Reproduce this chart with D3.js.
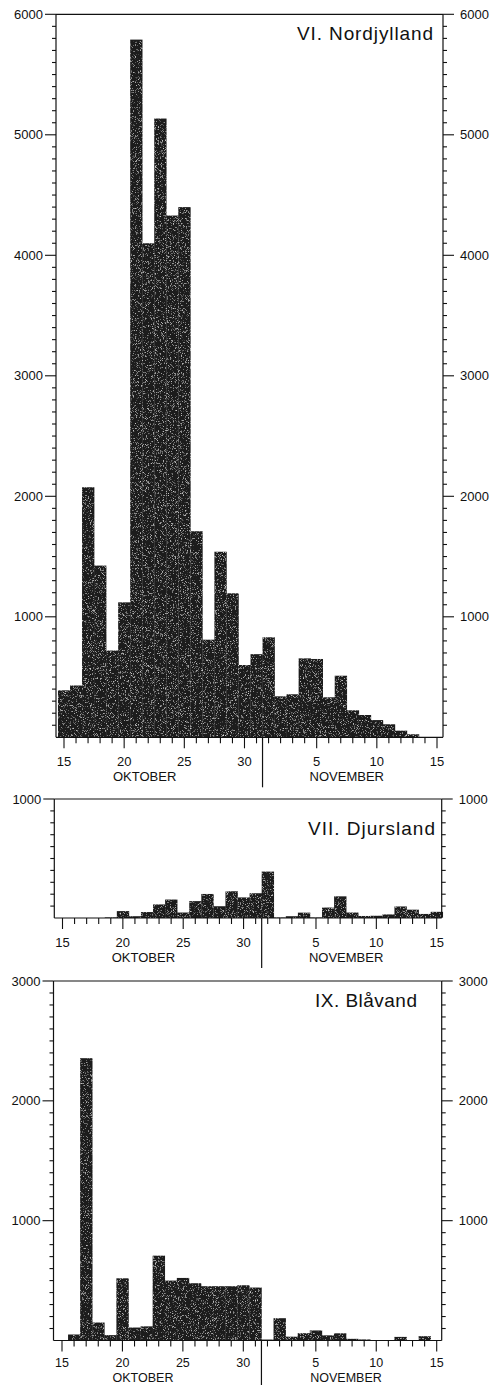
<!DOCTYPE html>
<html>
<head>
<meta charset="utf-8">
<script src="https://cdn.jsdelivr.net/npm/d3@7"></script>
<style>
  body { margin: 0; background: #fff; }
  text { font-family: "Liberation Sans", Arial, sans-serif; fill: #111; }
</style>
</head>
<body>
<script>
// days on the x axis, 15 Oktober .. 15 November
const days = [15, 16, 17, 18, 19, 20, 21, 22, 23, 24, 25, 26, 27, 28, 29, 30, 31,
              1, 2, 3, 4, 5, 6, 7, 8, 9, 10, 11, 12, 13, 14, 15];
const months = ["OKTOBER", "NOVEMBER"];

// counts per day
const nordjylland = [390, 430, 2075, 1425, 720, 1120, 5790, 4100, 5135, 4330, 4400, 1710, 810, 1540, 1195, 600, 690,
                     830, 340, 357, 655, 650, 332, 511, 224, 185, 143, 108, 55, 25, 0, 0];
const djursland = [0, 0, 0, 0, 5, 58, 15, 50, 114, 155, 46, 142, 202, 99, 225, 173, 208,
                   390, 4, 15, 45, 4, 88, 182, 46, 17, 19, 30, 97, 70, 34, 52];
const blavand = [0, 50, 2356, 150, 45, 519, 108, 118, 708, 500, 522, 478, 453, 453, 453, 461, 442,
                 8, 186, 32, 61, 84, 43, 60, 14, 9, 0, 0, 30, 0, 36, 0];

const nordLabels = [1000, 2000, 3000, 4000, 5000, 6000];
const djursLabels = [1000];
const blaLabels = [1000, 2000, 3000];

const panels = [
  { title: "VI. Nordjylland", values: nordjylland, max: 6000, labels: nordLabels,
    top: 14.3, base: 737.3, left: 56, right: 443, x0: 64, x1: 437, tx: 297, tw: 136, ty: 40,
    dy: 24, my: 39, fs: 13 },
  { title: "VII. Djursland", values: djursland, max: 1000, labels: djursLabels,
    top: 799, base: 918, left: 54.3, right: 441.7, x0: 62.5, x1: 436.7, tx: 308, tw: 127, ty: 835,
    dy: 24, my: 39, fs: 13 },
  { title: "IX. Blåvand", values: blavand, max: 3000, labels: blaLabels,
    top: 981, base: 1340.5, left: 53.5, right: 441.7, x0: 62, x1: 436.7, tx: 315, tw: 102, ty: 1006.5,
    dy: 22, my: 37, fs: 12.5 }
];

const svg = d3.select("body").append("svg")
    .attr("width", 500)
    .attr("height", 1385);

// stipple texture of the printed bars
const filter = svg.append("defs").append("filter")
    .attr("id", "grain")
    .attr("filterUnits", "userSpaceOnUse")
    .attr("x", 0).attr("y", 0).attr("width", 500).attr("height", 1385);
filter.append("feTurbulence")
    .attr("type", "fractalNoise")
    .attr("baseFrequency", 1.4)
    .attr("numOctaves", 2)
    .attr("seed", 4)
    .attr("result", "noise");
filter.append("feColorMatrix")
    .attr("in", "noise")
    .attr("type", "matrix")
    .attr("values", "0 0 0 0 0.85  0 0 0 0 0.85  0 0 0 0 0.85  0 0 0 2.6 -1.5")
    .attr("result", "specks");
filter.append("feComposite")
    .attr("in", "specks").attr("in2", "SourceGraphic")
    .attr("operator", "in").attr("result", "clipped");
const merge = filter.append("feMerge");
merge.append("feMergeNode").attr("in", "SourceGraphic");
merge.append("feMergeNode").attr("in", "clipped");

panels.forEach(p => {
  const g = svg.append("g");
  const x = d3.scaleLinear().domain([0, days.length - 1]).range([p.x0, p.x1]);
  const y = d3.scaleLinear().domain([0, p.max]).range([p.base, p.top]);
  const bw = x(1) - x(0);

  // bars
  g.append("g")
    .attr("filter", "url(#grain)")
    .selectAll("rect")
    .data(p.values)
    .join("rect")
    .attr("x", (d, i) => x(i - 0.5))
    .attr("width", bw + 0.3)
    .attr("y", d => y(d))
    .attr("height", d => p.base - y(d))
    .attr("fill", "#1e1e1e");

  // frame
  const line = (x1, y1, x2, y2, w) => g.append("line")
    .attr("x1", x1).attr("y1", y1).attr("x2", x2).attr("y2", y2)
    .attr("stroke", "#111").attr("stroke-width", w || 1.2);
  line(p.left, p.top, p.right, p.top);
  line(p.left, p.top, p.left, p.base);
  line(p.right, p.top, p.right, p.base);
  line(p.left, p.base, p.right, p.base);

  // y ticks, both sides, every 100
  const yTicks = d3.range(100, p.max + 1, 100);
  const major = v => v % 1000 === 0;
  g.selectAll(".ytl").data(yTicks).join("line")
    .attr("x1", v => p.left - (major(v) ? 11 : 4)).attr("x2", p.left)
    .attr("y1", v => y(v)).attr("y2", v => y(v))
    .attr("stroke", "#111").attr("stroke-width", 1.1);
  g.selectAll(".ytr").data(yTicks).join("line")
    .attr("x1", p.right).attr("x2", v => p.right + (major(v) ? 11 : 4))
    .attr("y1", v => y(v)).attr("y2", v => y(v))
    .attr("stroke", "#111").attr("stroke-width", 1.1);

  g.selectAll(".yll").data(p.labels).join("text")
    .attr("x", p.left - 13).attr("y", v => y(v)).attr("dy", "0.35em")
    .attr("text-anchor", "end").attr("font-size", 13)
    .text(v => v);
  g.selectAll(".ylr").data(p.labels).join("text")
    .attr("x", p.right + 17).attr("y", v => y(v)).attr("dy", "0.35em")
    .attr("font-size", 13)
    .text(v => v);

  // x ticks, one per day
  g.selectAll(".xt").data(days).join("line")
    .attr("x1", (d, i) => x(i)).attr("x2", (d, i) => x(i))
    .attr("y1", p.base).attr("y2", d => p.base + (d % 5 === 0 ? 11 : 6))
    .attr("stroke", "#111").attr("stroke-width", 1.1);
  g.selectAll(".xl").data(days.map((d, i) => [d, i]).filter(([d]) => d % 5 === 0)).join("text")
    .attr("x", ([d, i]) => x(i)).attr("y", p.base + p.dy).attr("dy", "0.35em")
    .attr("text-anchor", "middle").attr("font-size", p.fs)
    .text(([d]) => d);

  // month divider and names
  const split = days.indexOf(1) - 0.5;
  line(x(split), p.base, x(split), p.base + 50);
  g.selectAll(".mn").data(months).join("text")
    .attr("x", (m, k) => x(k === 0 ? 6.7 : 23.5)).attr("y", p.base + p.my).attr("dy", "0.35em")
    .attr("text-anchor", "middle").attr("font-size", p.fs)
    .text(m => m);

  // station title
  g.append("text")
    .attr("x", p.tx).attr("y", p.ty)
    .attr("font-size", 19)
    .attr("textLength", p.tw).attr("lengthAdjust", "spacing")
    .text(p.title);
});
</script>
</body>
</html>
